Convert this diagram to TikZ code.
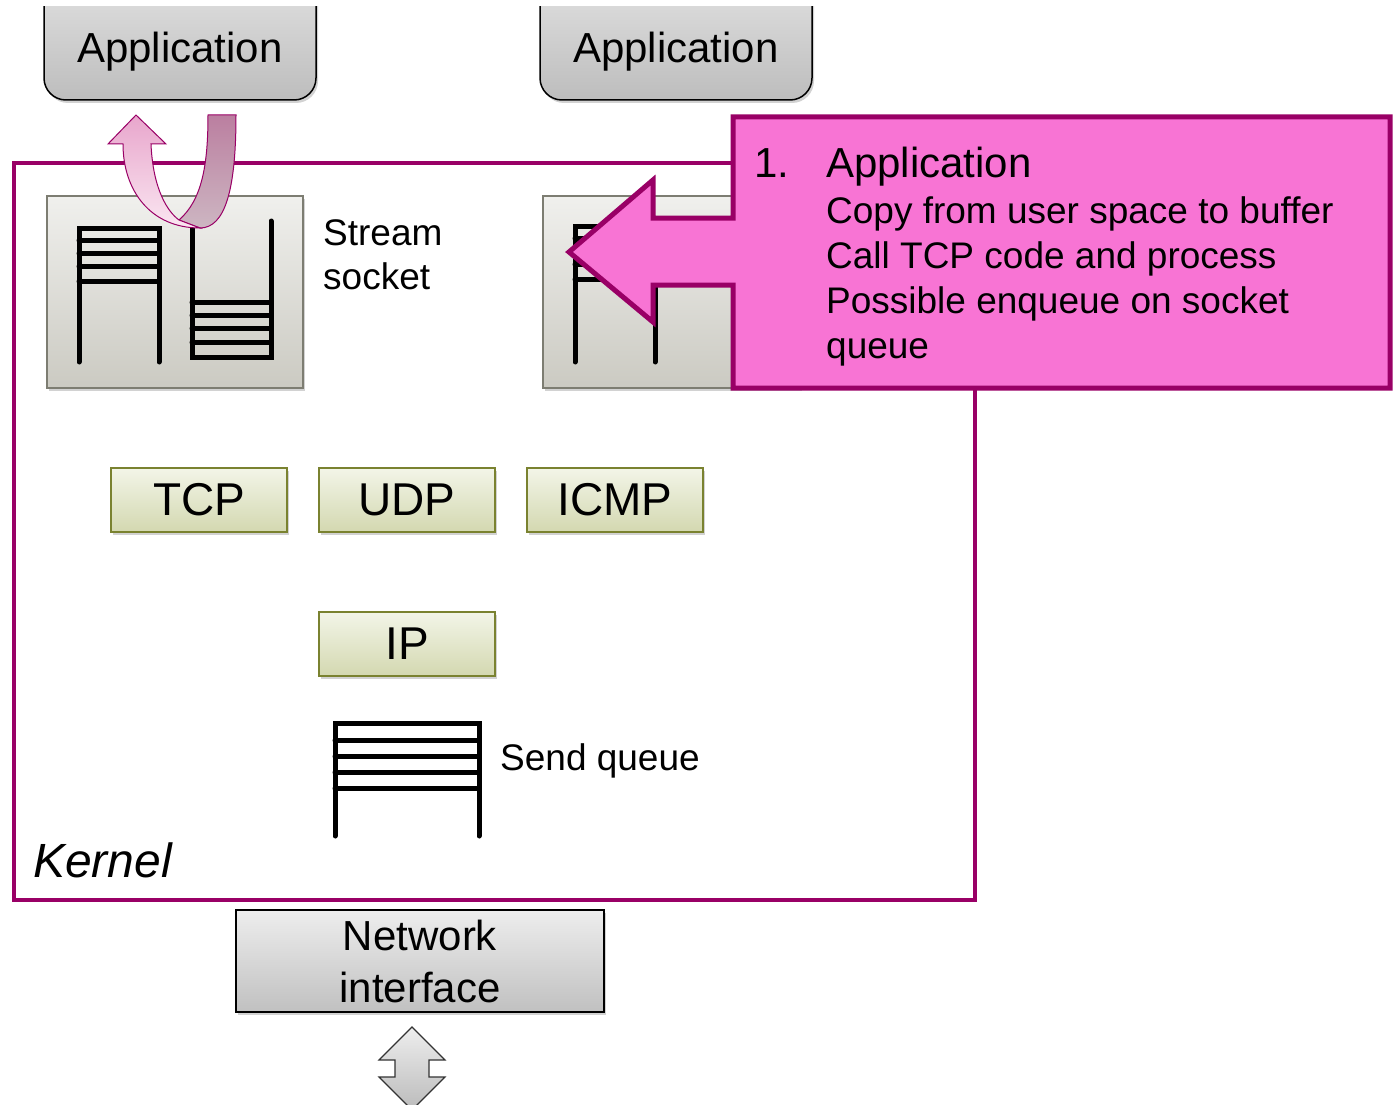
\documentclass[tikz,border=0pt]{standalone}
\usepackage{fontspec}
\setmainfont{Liberation Sans}
\usetikzlibrary{shadows}
\definecolor{kpurple}{HTML}{990066}
\definecolor{calloutpink}{HTML}{F874D4}
\definecolor{protoborder}{HTML}{7A8230}
\definecolor{protoTop}{HTML}{F3F5E8}
\definecolor{protoBot}{HTML}{D3D8B0}
\definecolor{sockTop}{HTML}{F0F0ED}
\definecolor{sockBot}{HTML}{CBCAC2}
\definecolor{sockBorder}{HTML}{7D7D72}
\definecolor{grayTop}{HTML}{E6E6E6}
\definecolor{grayBot}{HTML}{BDBDBD}
\definecolor{ribbonBackTop}{HTML}{BB7FA0}
\definecolor{ribbonBackBot}{HTML}{CDB6C2}
\definecolor{ribbonFrontTop}{HTML}{E8A6CC}
\definecolor{ribbonFrontBot}{HTML}{FAE6F1}
\definecolor{darrowTop}{HTML}{EEEEEE}
\definecolor{darrowBot}{HTML}{BBBBBB}
\begin{document}
\begin{tikzpicture}[x=1pt,y=-1pt,
  shadowed/.style={drop shadow={shadow xshift=2pt,shadow yshift=-3pt,opacity=0.25,fill=black!70}},
  appbox/.style={draw=black,line width=1.5pt,rounded corners=22pt,top color=grayTop,bottom color=grayBot,shadowed},
  sockbox/.style={draw=sockBorder,line width=1.5pt,top color=sockTop,bottom color=sockBot,shadowed},
  proto/.style={draw=protoborder,line width=2pt,top color=protoTop,bottom color=protoBot,
    minimum width=176pt,minimum height=64pt,inner sep=0pt,font=\fontsize{46}{50}\selectfont,shadowed},
  nicbox/.style={draw=black,line width=1.5pt,top color=grayTop!70!white,bottom color=grayBot!95!white,
    minimum width=368pt,minimum height=102pt,inner sep=0pt,align=center,font=\fontsize{42}{52}\selectfont,shadowed},
  qline/.style={line width=5pt,line cap=round,black},
  lbl/.style={anchor=base west,inner sep=0pt},
  callouttxt/.style={anchor=base west,inner sep=0pt,font=\fontsize{37}{45}\selectfont},
]
\useasboundingbox (0,0) rectangle (1393,1105);

% Application boxes (top cut by the page)
\begin{scope}
  \clip (0,7) rectangle (1393,1105);
  \path[appbox] (44,-40) rectangle (316,100);
  \path[appbox] (540,-40) rectangle (812,100);
\end{scope}
\node[anchor=base,inner sep=0pt,font=\fontsize{42}{50}\selectfont] (app1) at (180,63) {Application};
\node[anchor=base,inner sep=0pt,font=\fontsize{42}{50}\selectfont] (app2) at (676,63) {Application};

% Kernel box
\draw[kpurple,line width=4pt] (14,163) rectangle (975,900);
\node[lbl,font=\fontsize{48}{52}\selectfont\itshape] (kernel) at (33,877) {Kernel};

% Stream socket box
\path[sockbox] (47,196) rectangle (303,388);
\draw[qline] (79,362) -- (79,228) -- (159,228) -- (159,362);
\foreach \y in {240,253,266,281} \draw[qline] (79,\y) -- (159,\y);
\draw[qline] (192,221) -- (192,357) -- (271,357) -- (271,221);
\foreach \y in {302,315,328,342} \draw[qline] (192,\y) -- (271,\y);
\node[lbl,font=\fontsize{37}{44}\selectfont] (stream) at (323,245) {Stream};
\node[lbl,font=\fontsize{37}{44}\selectfont] (socket) at (323,289) {socket};

% Second socket box
\path[sockbox] (543,196) rectangle (800,388);
\draw[qline] (575,362) -- (575,226) -- (655,226) -- (655,362);
\foreach \y in {238,251,264,279} \draw[qline] (575,\y) -- (655,\y);

% U-turn arrow
\shade[top color=ribbonBackTop,bottom color=ribbonBackBot,draw=kpurple,line width=1pt]
  (208,115) -- (236,115) .. controls (236,190) and (225,228) .. (200,228)
  -- (179,220) .. controls (202,200) and (208,165) .. (208,115) -- cycle;
\shade[top color=ribbonFrontTop,bottom color=ribbonFrontBot,draw=kpurple,line width=1pt]
  (136,115) -- (166,144) -- (151,144) .. controls (153,190) and (168,212) .. (179,220)
  -- (200,228) .. controls (150,228) and (123,190) .. (123,144) -- (108,144) -- cycle;

% Protocol boxes
\node[proto] (tcp) at (199,500) {TCP};
\node[proto] (udp) at (407,500) {UDP};
\node[proto] (icmp) at (615,500) {ICMP};
\node[proto] (ip) at (407,644) {IP};

% Send queue
\draw[qline] (335,836) -- (335,723) -- (479,723) -- (479,836);
\foreach \y in {740,756,772,788} \draw[qline] (335,\y) -- (479,\y);
\node[lbl,font=\fontsize{37}{44}\selectfont] (sendq) at (500,770) {Send queue};

% Network interface
\node[nicbox] (nic) at (420,961) {Network\\interface};

% Double arrow
\shade[top color=darrowTop,bottom color=darrowBot,draw=black!80,line width=1.2pt]
  (412,1027) -- (445,1060) -- (429,1060) -- (429,1077) -- (445,1077) -- (412,1110)
  -- (379,1077) -- (395,1077) -- (395,1060) -- (379,1060) -- cycle;

% Callout
\draw[kpurple,line width=5pt,fill=calloutpink,line join=miter]
  (733,117) -- (1390,117) -- (1390,388) -- (733,388) -- (733,285) -- (653,285)
  -- (653,322) -- (569,252) -- (653,180) -- (653,218) -- (733,218) -- cycle;
\node[anchor=base west,inner sep=0pt,font=\fontsize{42}{45}\selectfont] (num) at (754,178) {1.};
\node[anchor=base west,inner sep=0pt,font=\fontsize{42}{45}\selectfont] (c0) at (826,178) {Application};
\node[callouttxt] (c1) at (826,223) {Copy from user space to buffer};
\node[callouttxt] (c2) at (826,268) {Call TCP code and process};
\node[callouttxt] (c3) at (826,313) {Possible enqueue on socket};
\node[callouttxt] (c4) at (826,358) {queue};
\end{tikzpicture}
\end{document}
